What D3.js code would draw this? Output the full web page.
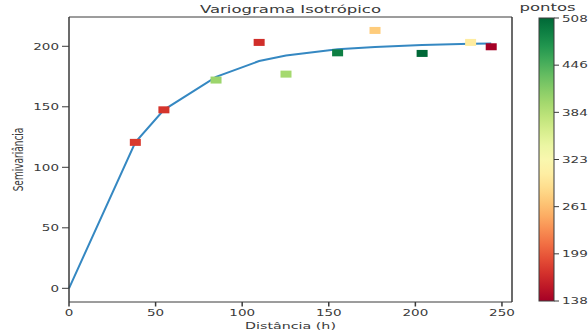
<!DOCTYPE html>
<html>
<head>
<meta charset="utf-8">
<script src="https://cdn.jsdelivr.net/npm/d3@7"></script>
<style>
  html, body { margin: 0; padding: 0; background: #fff; }
  svg { display: block; font-family: "DejaVu Sans", sans-serif; }
</style>
</head>
<body>
<svg id="chart" width="588" height="331"></svg>
<script>
// Experimental semivariogram: lag distance, semivariance and number of pairs per lag
const lagDistance = [38.3, 54.8, 84.9, 109.8, 125.3, 155.1, 176.7, 203.9, 231.9, 243.8];
const semivariance = [120.6, 147.5, 172.1, 203.2, 177.0, 194.6, 213.1, 194.1, 203.2, 199.6];
const pairCount = [180, 176, 402, 172, 396, 490, 272, 508, 302, 138];

// Fitted model evaluated at the origin and at each lag
const modelDistance = [0, 38.3, 54.8, 84.9, 109.8, 125.3, 155.1, 176.7, 203.9, 231.9, 243.8];
const modelValue = [0, 120.6, 147.5, 174.8, 187.8, 192.4, 197.5, 199.5, 201.0, 202.0, 202.2];

const xTicks = [0, 50, 100, 150, 200, 250];
const yTicks = [0, 50, 100, 150, 200];
const colorTicks = [138, 199.67, 261.33, 323, 384.67, 446.33, 508];
const colorTickLabels = ["138", "199", "261", "323", "384", "446", "508"];

const svg = d3.select("#chart");
const plot = { left: 69, right: 512, top: 17, bottom: 302 };
const cbar = { left: 539, right: 554, top: 18, bottom: 301 };
const SX = 1.5;           // horizontal stretch of glyphs
const axisColor = "#3a3a3a";
const textColor = "#3a3a3a";

const x = d3.scaleLinear().domain([0, 255.8]).range([plot.left, plot.right]);
const y = d3.scaleLinear().domain([-11.3, 224.2]).range([plot.bottom, plot.top]);
const color = d3.scaleSequential(d3.interpolateRdYlGn).domain([138, 508]);
const cy = d3.scaleLinear().domain([138, 508]).range([cbar.bottom, cbar.top]);

function label(g, tx, ty, text, size, anchor, rotate) {
  return g.append("text")
    .attr("transform", `translate(${tx},${ty}) scale(${SX},1)` + (rotate ? ` rotate(${rotate})` : ""))
    .attr("text-anchor", anchor)
    .attr("font-size", size)
    .attr("fill", textColor)
    .text(text);
}

// Model curve
svg.append("path")
  .datum(modelDistance.map((d, i) => [d, modelValue[i]]))
  .attr("fill", "none")
  .attr("stroke", "#3588c2")
  .attr("stroke-width", 2)
  .attr("d", d3.line().x(d => x(d[0])).y(d => y(d[1])));

// Experimental points coloured by pair count
svg.append("g").selectAll("rect")
  .data(lagDistance.map((d, i) => ({ h: d, g: semivariance[i], n: pairCount[i] })))
  .join("rect")
  .attr("x", d => x(d.h) - 5.5)
  .attr("y", d => y(d.g) - 3.5)
  .attr("width", 11)
  .attr("height", 7)
  .attr("fill", d => color(d.n));

// Axes frame
const frame = svg.append("g").attr("stroke", axisColor).attr("fill", "none");
frame.append("line").attr("x1", plot.left).attr("x2", plot.right).attr("y1", plot.top).attr("y2", plot.top).attr("stroke-width", 1);
frame.append("line").attr("x1", plot.left).attr("x2", plot.right).attr("y1", plot.bottom).attr("y2", plot.bottom).attr("stroke-width", 1);
frame.append("line").attr("x1", plot.left).attr("x2", plot.left).attr("y1", plot.top).attr("y2", plot.bottom).attr("stroke-width", 1.5);
frame.append("line").attr("x1", plot.right).attr("x2", plot.right).attr("y1", plot.top).attr("y2", plot.bottom).attr("stroke-width", 1.5);

// X ticks
const xg = svg.append("g");
xTicks.forEach(t => {
  xg.append("line").attr("x1", x(t)).attr("x2", x(t)).attr("y1", plot.bottom).attr("y2", plot.bottom + 4.5)
    .attr("stroke", axisColor).attr("stroke-width", 1.5);
  label(xg, x(t), 316, String(t), 9, "middle");
});
// Y ticks
const yg = svg.append("g");
yTicks.forEach(t => {
  yg.append("line").attr("x1", plot.left - 7).attr("x2", plot.left).attr("y1", y(t)).attr("y2", y(t))
    .attr("stroke", axisColor).attr("stroke-width", 1);
  label(yg, 59, y(t) + 3.3, String(t), 9, "end");
});

// Titles and axis labels
label(svg, (plot.left + plot.right) / 2, 12.5, "Variograma Isotrópico", 11, "middle");
label(svg, (plot.left + plot.right) / 2, 329, "Distância (h)", 9.5, "middle");
label(svg, 22.5, (plot.top + plot.bottom) / 2, "Semivariância", 9, "middle", -90);

// Colour bar
const defs = svg.append("defs");
const grad = defs.append("linearGradient").attr("id", "cbgrad")
  .attr("x1", 0).attr("y1", 1).attr("x2", 0).attr("y2", 0);
d3.range(0, 1.0001, 0.05).forEach(t => {
  grad.append("stop").attr("offset", t).attr("stop-color", d3.interpolateRdYlGn(t));
});
svg.append("rect")
  .attr("x", cbar.left).attr("y", cbar.top)
  .attr("width", cbar.right - cbar.left).attr("height", cbar.bottom - cbar.top)
  .attr("fill", "url(#cbgrad)").attr("stroke", axisColor).attr("stroke-width", 1);
const cg = svg.append("g");
colorTicks.forEach((t, i) => {
  cg.append("line").attr("x1", cbar.right).attr("x2", cbar.right + 5).attr("y1", cy(t)).attr("y2", cy(t))
    .attr("stroke", axisColor).attr("stroke-width", 1);
  label(cg, cbar.right + 8, cy(t) + 3.3 + (i === colorTicks.length - 1 ? 1 : 0), colorTickLabels[i], 9, "start");
});
label(svg, (cbar.left + cbar.right) / 2 + 1, 10.5, "pontos", 11, "middle");
</script>
</body>
</html>
